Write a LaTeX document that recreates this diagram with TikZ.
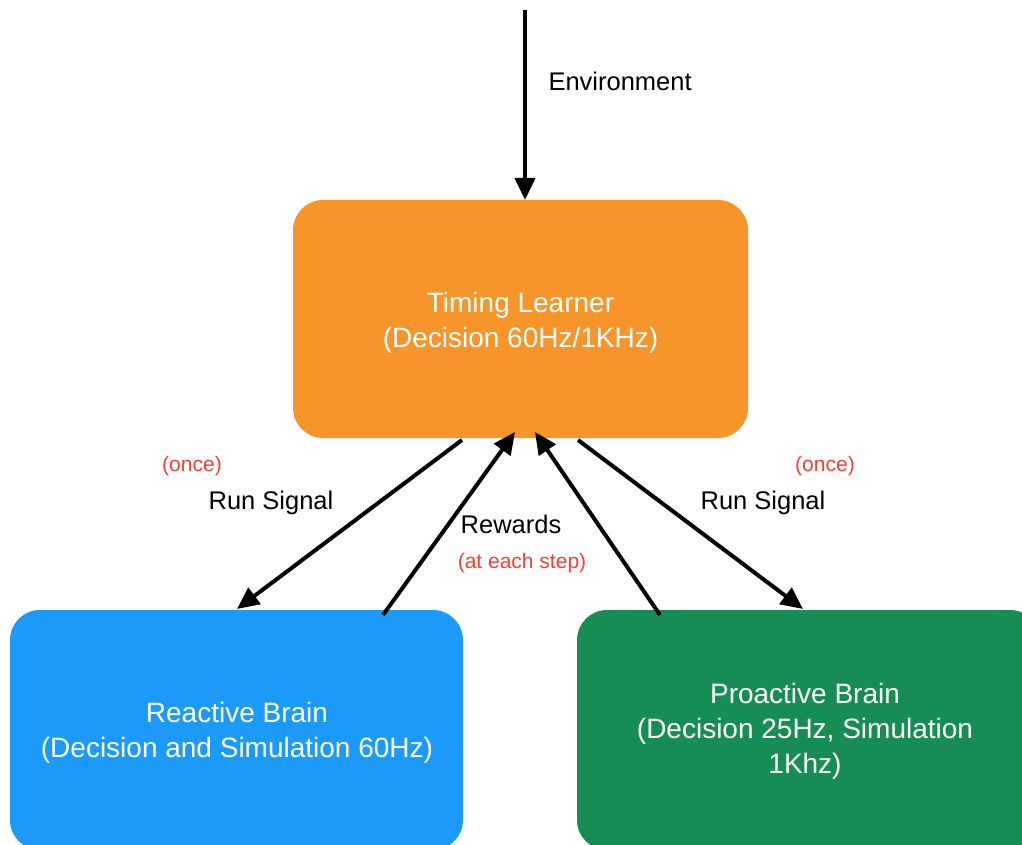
\documentclass[tikz,border=0pt]{standalone}
\usepackage{fontspec}
\setmainfont{Liberation Sans}
\usetikzlibrary{arrows.meta}
\definecolor{tlorange}{RGB}{248,149,42}
\definecolor{rbblue}{RGB}{27,154,250}
\definecolor{pbgreen}{RGB}{22,142,83}
\definecolor{notered}{RGB}{255,59,48}
\tikzset{
  box/.style={rounded corners=30pt, text=white, align=center,
    font=\fontsize{28}{35}\selectfont},
  link/.style={line width=4pt, -{Triangle[length=22pt,width=20pt]}},
  lbl/.style={font=\fontsize{25.5}{30}\selectfont, text=black},
  note/.style={font=\fontsize{21}{25}\selectfont, text=notered},
}
\begin{document}
\begin{tikzpicture}[x=1pt,y=-1pt]
  \useasboundingbox (0,0) rectangle (1022,845);
  \begin{scope}
    \clip (0,0) rectangle (1022,845);
    % boxes
    \fill[tlorange, rounded corners=30pt] (293,200) rectangle (748,438);
    \fill[rbblue, rounded corners=30pt] (10,610) rectangle (463,850);
    \fill[pbgreen, rounded corners=30pt] (577,610) rectangle (1040,850);
  \end{scope}
  \node[box] (tl) at (520.5,322.5) {Timing Learner\\(Decision 60Hz/1KHz)};
  \node[box] (rb) at (237,733) {Reactive Brain\\(Decision and Simulation 60Hz)};
  \node[box] (pb) at (805,731.5) {Proactive Brain\\(Decision 25Hz, Simulation\\1Khz)};

  % anchor points on box edges
  \coordinate (envtop) at (525,10);
  \coordinate (tltop) at (525,200);
  \coordinate (tlL1) at (462,440);
  \coordinate (tlL2) at (515,432);
  \coordinate (tlR2) at (535,432);
  \coordinate (tlR1) at (578,440);
  \coordinate (rbA) at (237,609);
  \coordinate (rbB) at (383,615);
  \coordinate (pbB) at (660,615);
  \coordinate (pbA) at (803,609);

  \draw[link] (envtop) -- (tltop);
  \draw[link] (tlL1) -- (rbA);
  \draw[link] (rbB) -- (tlL2);
  \draw[link] (pbB) -- (tlR2);
  \draw[link] (tlR1) -- (pbA);

  % labels
  \node[lbl, anchor=west] (env) at (545,81.5) {Environment};
  \node[note] (once1) at (192,466) {(once)};
  \node[lbl] (rs1) at (271,502.5) {Run Signal};
  \node[lbl] (rew) at (511,524.5) {Rewards};
  \node[note] (each) at (522,563.5) {(at each step)};
  \node[note] (once2) at (825,466) {(once)};
  \node[lbl] (rs2) at (763,502.5) {Run Signal};
\end{tikzpicture}
\end{document}
